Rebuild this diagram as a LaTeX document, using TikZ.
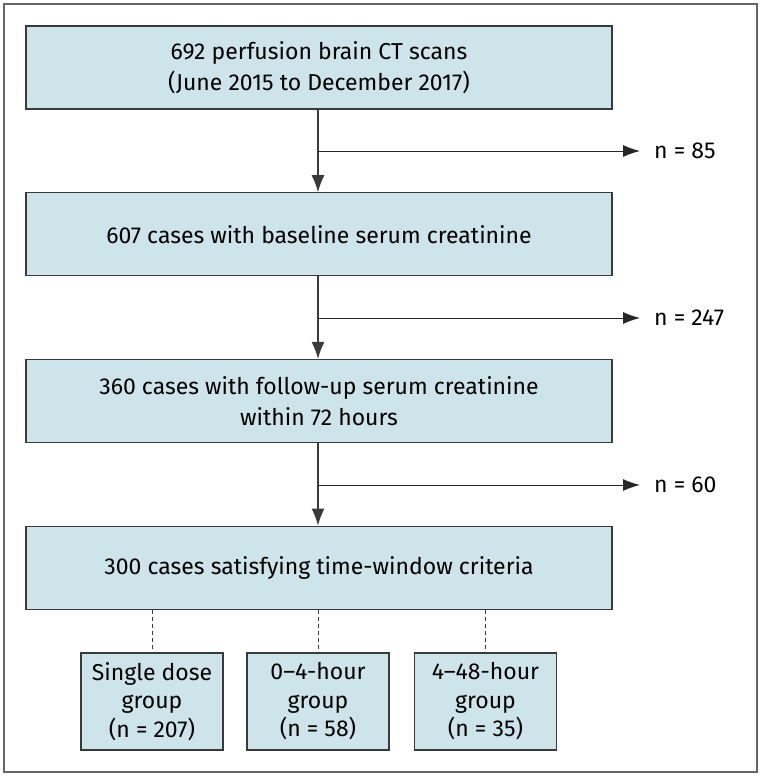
\documentclass[tikz,border=0pt]{standalone}
\usepackage{fontspec}
\setmainfont{Fira Sans}
\usetikzlibrary{positioning,arrows.meta}
\definecolor{boxfill}{HTML}{CDE4EA}
\definecolor{linegray}{HTML}{3A3A3A}

\begin{document}
\begin{tikzpicture}[x=1pt, y=-1pt, node distance=166.7pt,
    mainbox/.style={draw=linegray, fill=boxfill, line width=1.1pt, align=center, minimum width=586pt, minimum height=83pt, font=\fontsize{23}{31}\selectfont, inner sep=0pt},
    groupbox/.style={draw=linegray, fill=boxfill, line width=1.1pt, align=center, minimum width=142pt, minimum height=97pt, font=\fontsize{23}{28.5}\selectfont, inner sep=0pt},
    count/.style={anchor=west, inner xsep=14pt, font=\fontsize{23}{26}\selectfont},
    flow/.style={draw=linegray, line width=1.1pt, -{Latex[length=17pt,width=13pt]}},
    branch/.style={draw=black!85, line width=1pt, -{Latex[length=17pt,width=12pt]}},
    link/.style={draw=linegray, line width=1pt, dashed, dash pattern=on 4pt off 3pt}]
    \useasboundingbox (0,0) rectangle (761,777);
    \draw[black!60, line width=1.2pt] (4,4) rectangle (757,772);

    \node[mainbox] (scans) at (319,67.5) {692 perfusion brain CT scans\\(June 2015 to December 2017)};
    \node[mainbox, below of=scans] (baseline) {607 cases with baseline serum creatinine};
    \node[mainbox, below of=baseline] (followup) {360 cases with follow-up serum creatinine\\within 72 hours};
    \node[mainbox, below of=followup] (window) {300 cases satisfying time-window criteria};

    \node[groupbox] (single) at (152,701.5) {Single dose\\group\\(n = 207)};
    \node[groupbox] (early) at (318,701.5) {0--4-hour\\group\\(n = 58)};
    \node[groupbox] (late) at (485.5,701.5) {4--48-hour\\group\\(n = 35)};

    % excluded cases
    \coordinate (ex1) at (318,151);
    \coordinate (ex2) at (318,318);
    \coordinate (ex3) at (318,485);
    \node[count] (n1) at (640,151) {n = 85};
    \node[count] (n2) at (640,318) {n = 247};
    \node[count] (n3) at (640,485) {n = 60};

    \draw[flow] (scans.south -| ex1) -- (baseline.north -| ex1);
    \draw[flow] (baseline.south -| ex2) -- (followup.north -| ex2);
    \draw[flow] (followup.south -| ex3) -- (window.north -| ex3);
    \draw[branch] (ex1) -- (n1.west);
    \draw[branch] (ex2) -- (n2.west);
    \draw[branch] (ex3) -- (n3.west);

    \draw[link] (window.south -| single) -- (single.north);
    \draw[link] (window.south -| early) -- (early.north);
    \draw[link] (window.south -| late) -- (late.north);
\end{tikzpicture}
\end{document}
